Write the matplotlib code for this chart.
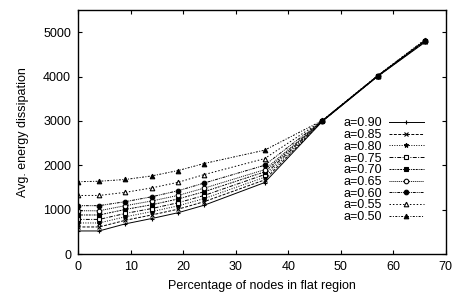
import numpy as np
import matplotlib.pyplot as plt

plt.rcParams['font.family'] = ['Liberation Sans', 'DejaVu Sans']
plt.rcParams['font.size'] = 9

# percentage of nodes in flat region
pct = [0, 4, 9, 14, 19, 24, 35.5, 46.5, 57, 66]

labels = ["a=0.90", "a=0.85", "a=0.80", "a=0.75", "a=0.70",
          "a=0.65", "a=0.60", "a=0.55", "a=0.50"]

e090 = [520, 520, 680, 800, 930, 1100, 1610, 2990, 4000, 4770]
e085 = [610, 610, 760, 880, 1010, 1180, 1670, 2995, 4005, 4780]
e080 = [700, 700, 840, 955, 1085, 1250, 1730, 3000, 4005, 4790]
e075 = [780, 780, 915, 1025, 1155, 1320, 1790, 3000, 4010, 4795]
e070 = [880, 880, 1005, 1110, 1240, 1405, 1850, 3005, 4010, 4800]
e065 = [975, 975, 1090, 1195, 1320, 1485, 1900, 3005, 4015, 4805]
e060 = [1090, 1090, 1180, 1290, 1425, 1600, 2000, 3005, 4015, 4810]
e055 = [1320, 1320, 1390, 1490, 1615, 1790, 2150, 3010, 4015, 4815]
e050 = [1630, 1640, 1680, 1760, 1880, 2040, 2340, 3010, 4020, 4830]
series = [e090, e085, e080, e075, e070, e065, e060, e055, e050]

# gnuplot-ish point and dash styles
markers = ['+', 'x', '*', 's', 's', 'o', 'o', '^', '^']
filled = [True, True, True, False, True, False, True, False, True]
dashes = [(None, None), (3, 1.5), (1, 1.5), (4, 1.5, 1, 1.5), (2, 1, 2, 1, 1, 1),
          (1, 1), (3, 1, 1, 1, 1, 1), (1.5, 2), (2, 1.5, 1, 1.5)]

fig = plt.figure(figsize=(4.54, 2.93), dpi=100)
ax = fig.add_axes([0.172, 0.133, 0.810, 0.833])

for i in range(len(series)):
    fc = 'black' if filled[i] else 'white'
    line, = ax.plot(pct, series[i], color='black', linewidth=0.7,
                    marker=markers[i], markersize=3.3, markerfacecolor=fc,
                    markeredgecolor='black', markeredgewidth=0.8, label=labels[i])
    if dashes[i][0] is not None:
        line.set_dashes(dashes[i])

ax.set_xlim(0, 70)
ax.set_ylim(0, 5500)
ax.set_xticks(range(0, 71, 10))
ax.set_yticks(range(0, 5001, 1000))
ax.tick_params(direction='in', top=True, right=True, length=3, width=0.8, pad=5)
for s in ax.spines.values():
    s.set_linewidth(1.0)

ax.set_xlabel("Percentage of nodes in flat region", labelpad=5)
ax.set_ylabel("Avg. energy dissipation", labelpad=10)

ax.legend(loc='upper right', bbox_to_anchor=(430 / 454, 1 - 111 / 293),
          bbox_transform=fig.transFigure, frameon=False, markerfirst=False,
          borderpad=0, labelspacing=-0.02, handlelength=2.8, handletextpad=0.55,
          fontsize=9)

fig.savefig("out.png", dpi=100)
